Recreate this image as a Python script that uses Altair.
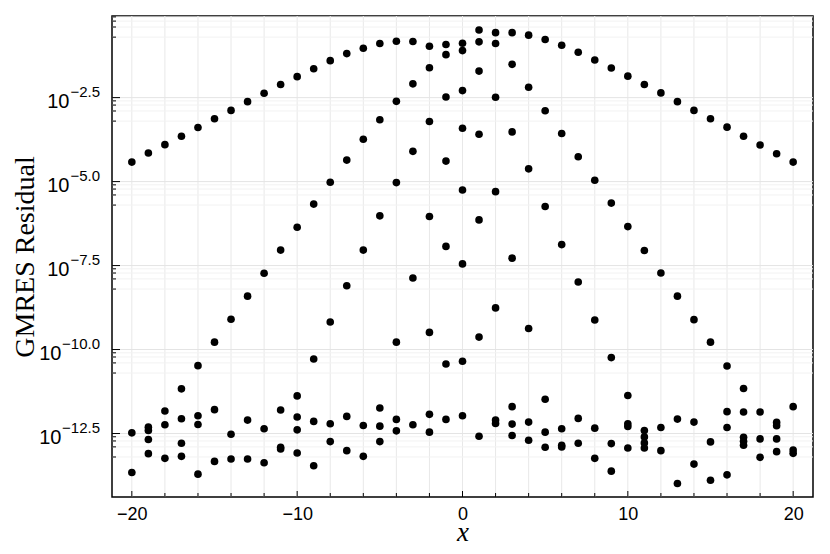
import altair as alt
import pandas as pd

# ---------------- data (log10 of the residual) ----------------
X_VALUES = list(range(-20, 21))

LOG_TOP = [-4.42, -4.15, -3.90, -3.65, -3.39, -3.13, -2.88, -2.62, -2.37, -2.11,
           -1.875, -1.64, -1.40, -1.19, -1.03, -0.89, -0.82, -0.83, -0.97, -0.92,
           -0.88, -0.485, -0.565, -0.565, -0.64, -0.77, -0.94, -1.15, -1.38, -1.62,
           -1.86, -2.11, -2.36, -2.62, -2.88, -3.13, -3.38, -3.65, -3.91, -4.17, -4.42]

# decaying branches, one list per x from -20 to 20
LOG_BRANCH = [
    [], [], [], [-11.17], [-10.48], [-9.78], [-9.10], [-8.41], [-7.73], [-7.04],
    [-6.36, -11.38], [-5.67, -10.28], [-5.02, -9.18], [-4.36, -8.10], [-3.74, -7.04],
    [-3.16, -6.02], [-2.61, -5.03, -9.78], [-2.09, -4.10, -7.87],
    [-1.61, -3.21, -6.04, -9.49], [-1.22, -2.48, -4.39, -6.93, -10.43],
    [-1.10, -2.29, -3.41, -5.25, -7.45, -10.35],
    [-0.84, -1.71, -3.59, -6.14, -9.63], [-0.89, -2.49, -5.30, -8.76],
    [-1.51, -3.52, -7.28], [-2.19, -4.62, -9.375], [-2.89, -5.74, -11.48],
    [-3.57, -6.875], [-4.26, -7.99], [-4.96, -9.12], [-5.64, -10.24], [-6.34, -11.37],
    [-7.05], [-7.72], [-8.41], [-9.11], [-9.78], [-10.49], [-11.16], [], [], [],
]

# points near the round-off floor, one list per x from -20 to 20
LOG_FLOOR = [
    [-12.48, -13.66], [-12.31, -12.41, -12.68, -13.10], [-11.83, -12.24, -13.24],
    [-12.06, -12.79, -13.18], [-11.97, -12.23, -13.71], [-11.79, -13.33],
    [-12.52, -13.26], [-12.10, -13.26], [-12.36, -13.37], [-11.80, -12.91, -12.96],
    [-12.01, -12.39, -13.08], [-12.14, -13.46], [-12.21, -12.74], [-11.99, -13.01],
    [-12.26, -13.18], [-11.74, -12.28, -12.74], [-12.08, -12.42], [-12.24],
    [-11.93, -12.46], [-12.08], [-11.97], [-12.58], [-12.10, -12.20],
    [-11.70, -12.22, -12.56], [-12.16, -12.70], [-12.46, -12.91],
    [-12.36, -12.85, -12.90], [-12.05, -12.79], [-12.34, -13.24], [-12.80, -13.62],
    [-12.21, -12.29, -12.93], [-12.41, -12.60, -12.78, -12.93], [-12.32, -13.01],
    [-12.07, -13.99], [-12.16, -13.41], [-12.75, -13.89], [-11.85, -12.32, -13.73],
    [-11.86, -12.61, -12.73, -12.85], [-11.86, -12.66, -13.21],
    [-12.17, -12.27, -12.66, -13.04], [-11.70, -12.99, -13.09],
]

MAJOR_EXP = [-2.5, -5.0, -7.5, -10.0, -12.5]
MAJOR_LABEL = ["\u22122.5", "\u22125.0", "\u22127.5", "\u221210.0", "\u221212.5"]
MINOR_BASE_EXP = [0.0, -2.5, -5.0, -7.5, -10.0, -12.5]
MINOR_FACTOR = [0.2, 0.4, 0.6, 0.8]
X_MAJOR = [-20, -10, 0, 10, 20]
X_MINOR = [-18, -16, -14, -12, -8, -6, -4, -2, 2, 4, 6, 8, 12, 14, 16, 18]

# ---------------- tables ----------------
rows = [(x, 10 ** v) for x, v in zip(X_VALUES, LOG_TOP)]
for x, vs in zip(X_VALUES, LOG_BRANCH):
    rows += [(x, 10 ** v) for v in vs]
for x, vs in zip(X_VALUES, LOG_FLOOR):
    rows += [(x, 10 ** v) for v in vs]
pts = pd.DataFrame(rows, columns=["x", "y"])

major = pd.DataFrame({"y": [10 ** e for e in MAJOR_EXP], "lab": MAJOR_LABEL})
minor = pd.DataFrame({"y": [f * 10 ** e for e in MINOR_BASE_EXP for f in MINOR_FACTOR]})
xmaj = pd.DataFrame({"x": X_MAJOR})
xmin = pd.DataFrame({"x": X_MINOR})
xall = pd.DataFrame({"x": sorted(X_MAJOR + X_MINOR)})

W, H = 701, 481
xscale = alt.Scale(domain=[-21.2, 21.2], nice=False, zero=False)
yscale = alt.Scale(type="log", domain=[10 ** -14.39, 10 ** -0.07], nice=False)

xaxis = alt.Axis(
    values=X_MAJOR, format="d", grid=False, ticks=False, tickSize=0, domain=False,
    labelFont="Liberation Sans", labelFontSize=18, labelColor="black", labelPadding=8,
    title="x", titleFont="Liberation Serif", titleFontStyle="italic",
    titleFontWeight="normal", titleFontSize=27, titleColor="black",
    titleY=43, titleBaseline="alphabetic")
yaxis = alt.Axis(
    values=[10 ** e for e in MAJOR_EXP], labelExpr="'10'",
    grid=False, ticks=False, tickSize=0, domain=False,
    labelFont="Liberation Sans", labelFontSize=20, labelColor="black",
    labelBaseline="middle", labelOffset=4,
    labelPadding={"condition": {"test": "datum.value < 1e-9", "value": 51}, "value": 43},
    title="GMRES Residual", titleFont="Liberation Serif", titleFontSize=28,
    titleFontWeight="normal", titleColor="black", titleX=-79, titleY=H / 2,
    titleAlign="center", titleBaseline="alphabetic")

X = alt.X("x:Q", scale=xscale, axis=xaxis)
Y = alt.Y("y:Q", scale=yscale, axis=yaxis)

xgrid = alt.Chart(xall).mark_rule(color="#e8e8e8", strokeWidth=1).encode(
    x=X, y=alt.value(0), y2=alt.value(H))
ygrid_minor = alt.Chart(minor).mark_rule(color="#f2f2f2", strokeWidth=1).encode(
    y=Y, x=alt.value(0), x2=alt.value(W))
ygrid_major = alt.Chart(major).mark_rule(color="#e4e4e4", strokeWidth=1).encode(
    y=Y, x=alt.value(0), x2=alt.value(W))

ytick_major = alt.Chart(major).mark_rule(color="black", strokeWidth=1).encode(
    y=Y, x=alt.value(0), x2=alt.value(8))
ytick_minor = alt.Chart(minor).mark_rule(color="black", strokeWidth=1).encode(
    y=Y, x=alt.value(0), x2=alt.value(4))
xtick_major = alt.Chart(xmaj).mark_rule(color="black", strokeWidth=1).encode(
    x=X, y=alt.value(H), y2=alt.value(H - 6))
xtick_minor = alt.Chart(xmin).mark_rule(color="black", strokeWidth=1).encode(
    x=X, y=alt.value(H), y2=alt.value(H - 4))

points = alt.Chart(pts).mark_circle(size=58, color="black", opacity=1).encode(x=X, y=Y)

exps = alt.Chart(major).mark_text(align="right", baseline="middle", dy=-6,
                                  font="Liberation Sans", fontSize=15, color="black").encode(
    y=Y, x=alt.value(-12), text="lab:N")

chart = alt.layer(
    xgrid, ygrid_minor, ygrid_major, ytick_minor, ytick_major, xtick_minor, xtick_major,
    points, exps,
).properties(
    width=W, height=H,
    padding={"left": 104, "top": 8, "right": 5, "bottom": 49},
    autosize=alt.AutoSizeParams(type="none"),
).configure_view(stroke="black", strokeWidth=1.5)

chart.save("out.html", embed_options={"renderer": "svg", "actions": False})
